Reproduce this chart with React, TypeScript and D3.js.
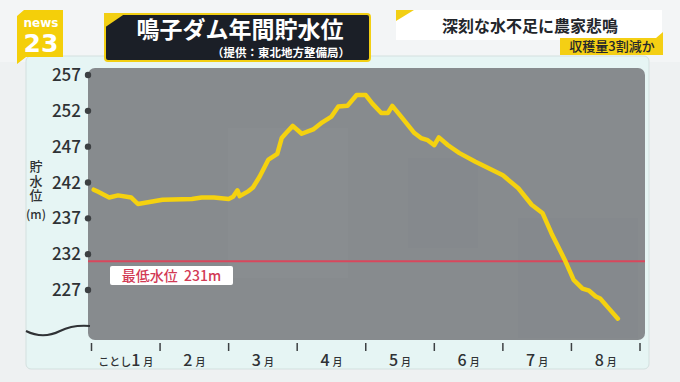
import React from "react";
import * as d3 from "d3";

const dates = ["1/1","1/3","1/8","1/12","1/18","1/21","2/1","2/13","2/17","2/22","2/28","3/2","3/4","3/5","3/9","3/11","3/14","3/18","3/22","3/24","3/26","3/29","4/2","4/7","4/11","4/15","4/18","4/22","4/26","4/30","5/3","5/7","5/10","5/12","5/16","5/22","5/25","5/28","5/31","6/2","6/6","6/11","6/18","6/30","7/7","7/13","7/18","7/22","7/28","8/1","8/5","8/8","8/11","8/13","8/17","8/21"];
const levels = [241.0,240.7,239.9,240.2,239.9,239.0,239.6,239.7,239.9,239.9,239.7,240.0,240.9,240.1,240.8,241.3,242.8,245.2,246.0,248.2,248.9,249.9,248.8,249.4,250.4,251.2,252.6,252.7,254.2,254.2,253.0,251.7,251.7,252.7,251.2,248.9,248.2,247.9,247.2,248.3,247.2,246.1,244.9,243.0,241.2,238.9,237.7,234.9,231.2,228.4,227.2,226.9,226.1,225.8,224.4,223.0];
const yTicks = [257, 252, 247, 242, 237, 232, 227];
const monthNums = ["1", "2", "3", "4", "5", "6", "7", "8"];
const daysInMonth = [31, 28, 31, 30, 31, 30, 31, 31];
const minLevel = 231;
const minLabel = "最低水位  231m";
const title = "鳴子ダム年間貯水位";
const subtitle = "（提供：東北地方整備局）";
const headline = "深刻な水不足に農家悲鳴";
const subHeadline = "収穫量3割減か";
const yTitle = "貯水位";
const yUnit = "(m)";

const FONT = "'Noto Sans CJK JP', 'Noto Sans', sans-serif";

function monthPos(s: string) {
  const [m, d] = s.split("/").map(Number);
  return m - 1 + d / daysInMonth[m - 1];
}

export default function App() {
  const W = 680, H = 382;
  const x = d3.scaleLinear().domain([0, 8]).range([91.5, 640]);
  const y = d3.scaleLinear().domain([227, 257]).range([290, 75]);
  const pts = dates.map((d, i) => [monthPos(d), levels[i]] as [number, number]);
  const line = d3.line<[number, number]>().x(d => x(d[0])).y(d => y(d[1]));
  const plotL = 88, plotR = 645, plotT = 68, plotB = 340;

  return (
    <svg width={W} height={H} style={{ position: "absolute", left: 0, top: 0 }} fontFamily={FONT}>
      <rect width={W} height={H} fill="#eef1f2" />
      <rect x={0} y={0} width={W} height={62} fill="#f3f5f6" />
      {/* panel */}
      <rect x={26} y={56} width={623} height={313} rx={5} fill="#e6f5f4" stroke="#d3e0df" strokeWidth={1} />
      {/* plot area */}
      <rect x={plotL} y={plotT} width={plotR - plotL} height={plotB - plotT} rx={7} fill="#878b8e" />
      <rect x={plotL + 140} y={plotT + 60} width={120} height={150} fill="#8b8f91" opacity={0.5} />
      <rect x={plotL + 320} y={plotT + 90} width={70} height={90} fill="#83878b" opacity={0.5} />
      <rect x={plotL + 430} y={plotT + 150} width={120} height={120} fill="#84888c" opacity={0.5} />
      {/* y ticks */}
      {yTicks.map(t => (
        <g key={t}>
          <circle cx={plotL} cy={y(t)} r={3.2} fill="#3d4043" />
          <text x={81} y={y(t)} dy="0.36em" textAnchor="end" fontSize={17} fontWeight={500} fill="#2f3235">{t}</text>
        </g>
      ))}
      {/* y title */}
      <text x={36} y={160} fontSize={13} fontWeight={500} fill="#2f3235" style={{ writingMode: "vertical-rl", letterSpacing: "1.5px" }}>{yTitle}</text>
      <text x={36} y={219} textAnchor="middle" fontSize={12} fontWeight={500} fill="#2f3235">{yUnit}</text>
      {/* axis break wave */}
      <path d="M26,331 C38,337 50,336 60,331 C70,326 78,325 90,326" fill="none" stroke="#2f3235" strokeWidth={2} />
      {/* x ticks */}
      {d3.range(0, 9).map(i => (
        <line key={i} x1={x(i)} x2={x(i)} y1={343} y2={351} stroke="#3d4043" strokeWidth={1.5} />
      ))}
      {monthNums.map((m, i) => {
        const cx = x(i + 0.5);
        return (
          <text key={m} x={cx} y={366} textAnchor="middle" fill="#2f3235" fontWeight={500}>
            {i === 0 && <tspan fontSize={11}>ことし</tspan>}
            <tspan fontSize={16}>{m}</tspan>
            <tspan fontSize={10} dx={3}>月</tspan>
          </text>
        );
      })}
      {/* min level line */}
      <line x1={plotL} x2={plotR} y1={y(minLevel)} y2={y(minLevel)} stroke="#d9475c" strokeWidth={2} />
      <rect x={110} y={266} width={123} height={19} rx={2} fill="#ffffff" />
      <text x={171.5} y={281} textAnchor="middle" fontSize={14} fontWeight={500} fill="#d23a55" style={{ whiteSpace: "pre" }}>{minLabel}</text>
      {/* data line */}
      <path d={line(pts) || ""} fill="none" stroke="#f5d20f" strokeWidth={4.5} strokeLinejoin="round" strokeLinecap="round" />
      {/* logo */}
      <path d="M17,16 L24,10 L63,10 L63,57 L26,57 L17,64 Z" fill="#f4cf0a" />
      <text x={41} y={27} textAnchor="middle" fontSize={12} fontWeight={700} fill="#ffffff" fontFamily="'DejaVu Sans', sans-serif">news</text>
      <text x={41} y={52} textAnchor="middle" fontSize={25} fontWeight={700} fill="#ffffff" fontFamily="'DejaVu Sans', sans-serif">23</text>
      {/* title box */}
      <rect x={105} y={14} width={265} height={47} rx={3} fill="#1b1f27" stroke="#f2cf14" strokeWidth={2} />
      <path d="M104,13 L126,13 L104,28 Z" fill="#f2cf14" />
      <text x={240} y={38} textAnchor="middle" fontSize={23} fontWeight={700} fill="#ffffff">{title}</text>
      <text x={281} y={57} textAnchor="middle" fontSize={11.5} fontWeight={700} fill="#ffffff">{subtitle}</text>
      {/* headline */}
      <rect x={396} y={10} width={266} height={30} fill="#ffffff" />
      <path d="M396,10 L414,10 L396,21 Z" fill="#f2cf14" />
      <text x={530} y={32} textAnchor="middle" fontSize={16} fontWeight={700} fill="#23262b">{headline}</text>
      <path d="M560,38 L656,38 L663,32 L663,55 L560,55 Z" fill="#f4cf14" />
      <text x={612} y={51} textAnchor="middle" fontSize={13} fontWeight={500} fill="#23262b">{subHeadline}</text>
    </svg>
  );
}
